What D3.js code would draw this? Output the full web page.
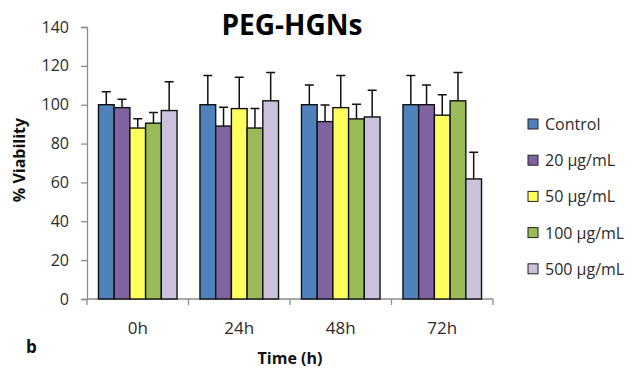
<!DOCTYPE html>
<html>
<head>
<meta charset="utf-8">
<script src="https://cdn.jsdelivr.net/npm/d3@7"></script>
<style>
  body { margin: 0; background: #fff; }
  text { font-family: "Open Sans", sans-serif; }
</style>
</head>
<body>
<div id="holder"></div>
<script>
const times = ["0h", "24h", "48h", "72h"];
const doses = ["Control", "20 \u00b5g/mL", "50 \u00b5g/mL", "100 \u00b5g/mL", "500 \u00b5g/mL"];
const colors = ["#4F81BD", "#8064A2", "#FFFF5E", "#9BBB59", "#CCC1DA"];
// mean viability per dose, one array per time point
const means = [
    [100, 98.5, 88, 90.5, 97],
    [100, 89, 98, 88, 102],
    [100, 91.3, 98.5, 92.7, 93.7],
    [100, 100, 94.6, 102, 61.8]
];
// upper end of error bar
const errTop = [
    [106.7, 102.8, 92.8, 96, 111.8],
    [115, 98.7, 114.2, 98, 116.6],
    [110.1, 99.9, 115, 100.3, 107.5],
    [115, 110.1, 105.1, 116.6, 75.5]
];
const yTicks = [0, 20, 40, 60, 80, 100, 120, 140];

const width = 641;
const height = 368;

const svg = d3.select("#holder")
    .append("svg")
    .attr("width", width)
    .attr("height", height);

const x = d3.scaleBand()
    .domain(times)
    .range([87, 493])
    .paddingInner(0)
    .paddingOuter(0);

const xInner = d3.scaleBand()
    .domain(doses)
    .range([0, x.bandwidth()])
    .paddingOuter(0.73)
    .paddingInner(0);

const y = d3.scaleLinear()
    .domain([0, 140])
    .range([299, 27]);

// y axis
const yAxis = svg.append("g")
    .attr("transform", "translate(87,0)")
    .call(d3.axisLeft(y).tickValues(yTicks).tickSize(6).tickPadding(12));
yAxis.select(".domain").attr("stroke", "#8c8c8c").attr("stroke-width", 1.3);
yAxis.selectAll(".tick line").attr("stroke", "#8c8c8c").attr("stroke-width", 1.3);
yAxis.selectAll(".tick text")
    .attr("font-size", 16)
    .attr("fill", "#2b2b2b")
    .style("font-family", "Open Sans, sans-serif");

// x axis
const xAxis = svg.append("g")
    .attr("transform", "translate(0,299)");
xAxis.append("line")
    .attr("x1", 87).attr("x2", 493)
    .attr("y1", 0).attr("y2", 0)
    .attr("stroke", "#8c8c8c").attr("stroke-width", 1.3);
xAxis.selectAll("line.sep")
    .data([...times.map(t => x(t)), 493])
    .enter()
    .append("line")
    .attr("class", "sep")
    .attr("x1", d => d).attr("x2", d => d)
    .attr("y1", 0).attr("y2", 6)
    .attr("stroke", "#8c8c8c").attr("stroke-width", 1.3);
xAxis.selectAll("text")
    .data(times)
    .enter()
    .append("text")
    .attr("x", d => x(d) + x.bandwidth() / 2)
    .attr("y", 35)
    .attr("text-anchor", "middle")
    .attr("font-size", 17)
    .attr("fill", "#2b2b2b")
    .text(d => d);

// bars
const groups = svg.selectAll("g.group")
    .data(times)
    .enter()
    .append("g")
    .attr("class", "group")
    .attr("transform", d => `translate(${x(d)},0)`);

groups.selectAll("rect")
    .data((t, i) => doses.map((d, j) => ({ dose: d, j: j, v: means[i][j], e: errTop[i][j] })))
    .enter()
    .append("rect")
    .attr("x", d => xInner(d.dose))
    .attr("y", d => y(d.v))
    .attr("width", xInner.bandwidth())
    .attr("height", d => y(0) - y(d.v))
    .attr("fill", d => colors[d.j])
    .attr("stroke", "#111")
    .attr("stroke-width", 1.4);

// error bars (upper only)
groups.selectAll("path.err")
    .data((t, i) => doses.map((d, j) => ({ dose: d, v: means[i][j], e: errTop[i][j] })))
    .enter()
    .append("path")
    .attr("class", "err")
    .attr("d", d => {
        const cx = xInner(d.dose) + xInner.bandwidth() / 2;
        return `M${cx},${y(d.v)}V${y(d.e)}M${cx - 4.5},${y(d.e)}H${cx + 4.5}`;
    })
    .attr("fill", "none")
    .attr("stroke", "#111")
    .attr("stroke-width", 1.5);

// title
svg.append("text")
    .attr("x", 292)
    .attr("y", 35)
    .attr("text-anchor", "middle")
    .attr("font-size", 28)
    .attr("font-weight", "bold")
    .attr("fill", "#000")
    .text("PEG-HGNs");

// axis titles
svg.append("text")
    .attr("transform", "translate(25,160) rotate(-90)")
    .attr("text-anchor", "middle")
    .attr("font-size", 16)
    .attr("font-weight", "bold")
    .attr("fill", "#111")
    .text("% Viability");

svg.append("text")
    .attr("x", 290)
    .attr("y", 364)
    .attr("text-anchor", "middle")
    .attr("font-size", 16)
    .attr("font-weight", "bold")
    .attr("fill", "#111")
    .text("Time (h)");

svg.append("text")
    .attr("x", 26)
    .attr("y", 353)
    .attr("font-size", 17)
    .attr("font-weight", "bold")
    .attr("fill", "#111")
    .text("b");

// legend
const legend = svg.selectAll("g.legend")
    .data(doses)
    .enter()
    .append("g")
    .attr("class", "legend")
    .attr("transform", (d, i) => `translate(528,${124 + i * 36.2})`);

legend.append("rect")
    .attr("x", 0)
    .attr("y", -5)
    .attr("width", 10)
    .attr("height", 10)
    .attr("fill", (d, i) => colors[i])
    .attr("stroke", "#222")
    .attr("stroke-width", 1);

legend.append("text")
    .attr("x", 17)
    .attr("y", 6)
    .attr("font-size", 16)
    .attr("fill", "#2b2b2b")
    .text(d => d);
</script>
</body>
</html>
